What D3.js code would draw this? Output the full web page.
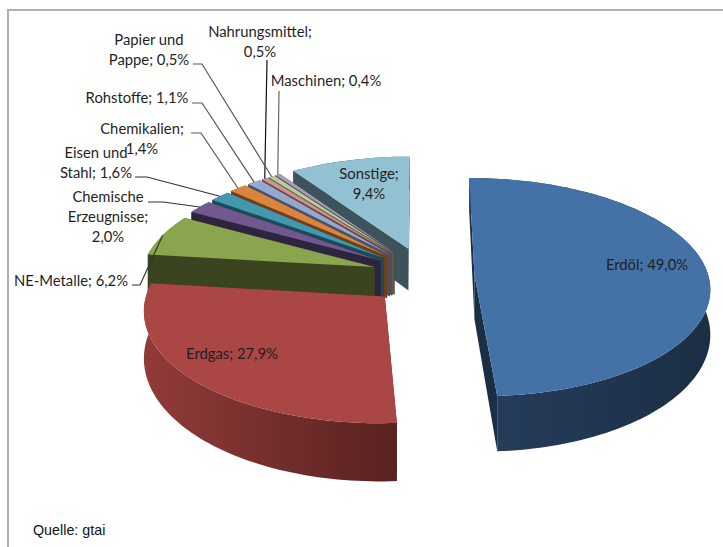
<!DOCTYPE html>
<html lang="de">
<head>
  <meta charset="UTF-8" />
  <title>Einfuhr nach Waren</title>
  <script src="https://d3js.org/d3.v7.min.js"></script>
  <style>
    body { margin: 0; background: white; }
    svg { display: block; }
    .label { font-family: Lato, "Open Sans", sans-serif; font-size: 14.8px; fill: #1f1f1f; }
    .source { font-family: "Liberation Sans", sans-serif; font-size: 14.3px; fill: #111; }
    .leader { fill: none; stroke-width: 1.2px; }
  </style>
</head>
<body>
  <svg id="chart" width="723" height="547"></svg>

  <script>
    const categories = ["Erdöl", "Erdgas", "NE-Metalle", "Chemische Erzeugnisse", "Eisen und Stahl",
                        "Chemikalien", "Rohstoffe", "Nahrungsmittel", "Papier und Pappe", "Maschinen", "Sonstige"];
    const shares = [49.0, 27.9, 6.2, 2.0, 1.6, 1.4, 1.1, 0.5, 0.5, 0.4, 9.4];
    const topColors = ["#4472a6", "#aa4643", "#89a54e", "#71588f", "#4198af", "#db843d",
                       "#93a9cf", "#d19392", "#b9cd96", "#a99bbd", "#92c1d4"];
    const sideLeft = ["#263e5e", "#923b39", "#3a4520", "#2f2440", "#1c4a57", "#6e3f1a",
                      "#46526a", "#6a4544", "#5a6644", "#50485e", "#3d535c"];
    const sideRight = ["#1b2e44", "#582220", "#3a4520", "#2f2440", "#1c4a57", "#6e3f1a",
                       "#46526a", "#6a4544", "#5a6644", "#50485e", "#3d535c"];

    // label text broken the way the picture has it
    const labelLines = [["Erdöl; 49,0%"], ["Erdgas; 27,9%"], ["NE-Metalle; 6,2%"],
                        ["Chemische", "Erzeugnisse;", "2,0%"], ["Eisen und", "Stahl; 1,6%"],
                        ["Chemikalien;", "1,4%"], ["Rohstoffe; 1,1%"], ["Nahrungsmittel;", "0,5%"],
                        ["Papier und", "Pappe; 0,5%"], ["Maschinen; 0,4%"], ["Sonstige;", "9,4%"]];

    // label placement, centre of first line
    const labelX = [647, 232, 71, 108, 96, 142, 137, 260, 149, 326, 369];
    const labelY = [265, 354, 281, 197, 153, 129, 98, 32, 40, 81, 174];
    // where the leader leaves the label, null = label sits on the slice
    const leaderStart = [null, null, [132, 285, 140], [148, 202, 163], [135, 177, 147],
                         [191, 133, 201], [192, 103, 202], [267, 60, 267], [193, 64, 202], [279, 91, 279], null];
    const leaderColor = ["", "", "#333", "#333", "#333", "#555", "#555", "#111", "#555", "#666", ""];

    // fake 3d: a flat disc seen at an angle, with some perspective
    const cx = 423, cy = 276;
    const rx = 234, ry = 108;
    const persp = 0.11;
    const depth = 44;
    const explodeX = 0.22, explodeY = 0.27;

    const slices = d3.pie().sort(null).value(d => d)(shares);

    function project(u, v, h) {
      const s = 1 / (1 - persp * v);
      return [cx + u * rx * s, cy + v * ry * s + h * depth * s * s];
    }

    function offset(d) {
      const mid = (d.startAngle + d.endAngle) / 2;
      return [Math.sin(mid) * explodeX, -Math.cos(mid) * explodeY];
    }

    // point of a slice, r = 0 apex, r = 1 rim
    function slicePoint(d, angle, r, h) {
      const o = offset(d);
      return project(o[0] + Math.sin(angle) * r, o[1] - Math.cos(angle) * r, h);
    }

    function rimAngles(d) {
      const n = Math.max(2, Math.ceil((d.endAngle - d.startAngle) * 40));
      return d3.range(n + 1).map(i => d.startAngle + (d.endAngle - d.startAngle) * i / n);
    }

    const svg = d3.select("#chart");
    const line = d3.line();
    const defs = svg.append("defs");

    // frame
    svg.append("path")
      .attr("d", "M8,547V10H723")
      .attr("fill", "none")
      .attr("stroke", "#b0b0b0")
      .attr("stroke-width", 2);

    slices.forEach((d, i) => {
      const grad = defs.append("linearGradient").attr("id", "side" + i);
      grad.append("stop").attr("offset", "0%").attr("stop-color", sideLeft[i]);
      grad.append("stop").attr("offset", "100%").attr("stop-color", sideRight[i]);
    });

    // back to front, Sonstige first
    const order = d3.range(slices.length).reverse();
    order.forEach(i => {
      const d = slices[i];
      const g = svg.append("g").attr("class", "slice");
      const rim = rimAngles(d);
      const apexTop = slicePoint(d, 0, 0, 0);
      const apexBottom = slicePoint(d, 0, 0, 1);

      // straight walls
      [d.startAngle, d.endAngle].forEach(a => {
        g.append("path")
          .attr("d", line([apexTop, slicePoint(d, a, 1, 0), slicePoint(d, a, 1, 1), apexBottom]) + "Z")
          .attr("fill", sideRight[i]);
      });

      // rim wall
      const wall = rim.map(a => slicePoint(d, a, 1, 0))
        .concat(rim.slice().reverse().map(a => slicePoint(d, a, 1, 1)));
      g.append("path")
        .attr("d", line(wall) + "Z")
        .attr("fill", `url(#side${i})`);

      // top
      g.append("path")
        .attr("d", line([apexTop].concat(rim.map(a => slicePoint(d, a, 1, 0)))) + "Z")
        .attr("fill", topColors[i]);
    });

    // leaders
    slices.forEach((d, i) => {
      const s = leaderStart[i];
      if (!s) return;
      const end = slicePoint(d, (d.startAngle + d.endAngle) / 2, 1, 0);
      svg.append("path")
        .attr("class", "leader")
        .attr("stroke", leaderColor[i])
        .attr("d", line([[s[0], s[1]], [s[2], s[1]], end]));
    });

    // labels
    labelLines.forEach((lines, i) => {
      const t = svg.append("text")
        .attr("class", "label")
        .attr("text-anchor", "middle");
      lines.forEach((txt, k) => {
        t.append("tspan")
          .attr("x", labelX[i])
          .attr("y", labelY[i] + k * 20 + 5)
          .text(txt);
      });
    });

    svg.append("text")
      .attr("class", "source")
      .attr("x", 33)
      .attr("y", 535)
      .text("Quelle: gtai");
  </script>
</body>
</html>
